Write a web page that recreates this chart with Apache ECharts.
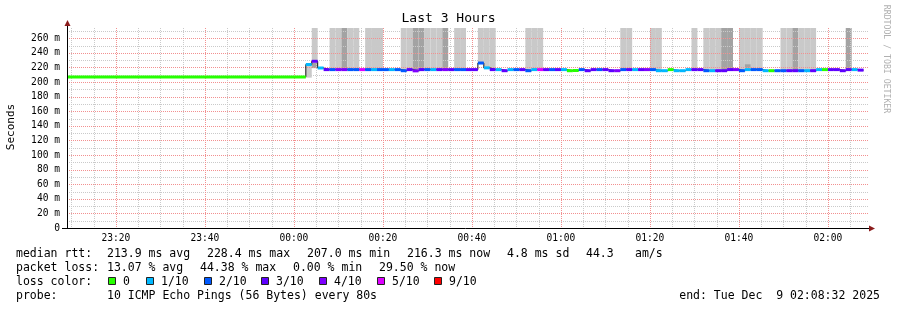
<!DOCTYPE html>
<html><head><meta charset="utf-8">
<script src="https://cdn.jsdelivr.net/npm/echarts@6/dist/echarts.min.js"></script>
<style>html,body{margin:0;padding:0;background:#fff}#c{width:897px;height:310px}</style>
</head><body><div id="c"></div>
<script>
// ---- time axis (minutes relative to 00:00) ----
const graphStartMin = -51.0;      // left edge of plot
const graphEndMin = 129.0;        // right edge of plot
const firstStepMin = 2.6667;      // 00:02:40
const stepMin = 80 / 60;          // 80 s probe step
const initialMedianMs = 207.0;    // held from graph start
const initialLoss = 0;

// ---- median rtt (ms) and loss (tenths) per 80 s step ----
const medianMs = [
  224.0, 228.4, 219.2, 217.0, 217.0, 217.0, 217.0, 217.0, 217.0, 217.0,
  217.0, 217.0, 217.0, 217.0, 217.0, 217.0, 215.5, 217.0, 215.3, 217.0,
  217.0, 217.0, 217.0, 217.0, 217.0, 217.0, 217.0, 217.0, 217.0, 226.0,
  219.4, 217.0, 217.0, 215.5, 217.0, 217.0, 217.0, 215.5, 217.0, 217.0,
  217.0, 217.0, 217.0, 217.0, 215.5, 215.8, 217.0, 215.5, 217.0, 217.0,
  217.0, 215.5, 215.5, 217.0, 217.0, 217.0, 217.0, 217.0, 217.0, 215.5,
  215.5, 217.0, 215.5, 215.5, 217.0, 217.0, 217.0, 215.5, 215.5, 215.5,
  215.5, 217.0, 217.0, 215.5, 217.0, 217.0, 217.0, 215.5, 215.5, 215.5,
  215.5, 215.5, 215.5, 215.5, 215.5, 215.5, 217.0, 217.0, 217.0, 217.0,
  215.5, 217.0, 217.0, 216.3
];
const lossTenths = [
  1, 3, 1, 3, 2, 4, 4, 2, 2, 5,
  2, 1, 2, 2, 1, 2, 2, 3, 4, 3,
  2, 1, 3, 4, 3, 2, 2, 3, 3, 2,
  1, 3, 1, 3, 1, 2, 3, 2, 1, 5,
  3, 2, 3, 1, 0, 0, 2, 3, 3, 2,
  3, 3, 4, 2, 3, 1, 3, 4, 2, 1,
  1, 0, 1, 1, 1, 3, 3, 2, 1, 3,
  3, 3, 4, 2, 1, 2, 2, 1, 0, 2,
  2, 3, 3, 2, 1, 3, 1, 0, 3, 3,
  3, 3, 1, 3
];

// ---- smoke (ping spread) per step: step index, low ms, high ms, density ----
const smokeStep  = [0, 1, 1, 4, 5, 6, 7, 8, 10, 11, 12, 16, 17, 18, 19, 20, 21, 22, 23, 25, 26, 29, 30, 31, 37, 38, 39, 53, 54, 58, 59, 65, 67, 68, 69, 70, 71, 73, 74, 74, 75, 76, 80, 81, 82, 83, 84, 85, 91];
const smokeLowMs = [206, 228, 219, 217, 217, 217, 217, 217, 217, 217, 217, 215.5, 217, 215.3, 217, 217, 217, 217, 217, 217, 217, 226, 219.4, 217, 215.5, 217, 217, 217, 217, 217, 215.5, 217, 215.5, 215.5, 215.5, 215.5, 217, 215.5, 224.5, 219, 217, 217, 215.5, 215.5, 215.5, 215.5, 215.5, 215.5, 217];
const smokeHighMs = [224, 300, 226.5, 300, 300, 300, 300, 300, 300, 300, 300, 300, 300, 300, 300, 300, 300, 300, 300, 300, 300, 300, 300, 300, 300, 300, 300, 300, 300, 300, 300, 300, 300, 300, 300, 300, 300, 300, 300, 224.5, 300, 300, 300, 300, 300, 300, 300, 300, 300];
const smokeShade = [1, 1, 2, 1, 1, 2, 1, 1, 1, 1, 1, 1, 1, 2, 2, 1, 1, 1, 2, 1, 1, 1, 1, 1, 1, 1, 1, 1, 1, 1, 1, 1, 1, 1, 1, 2, 2, 1, 1, 2, 1, 1, 1, 1, 2, 1, 1, 1, 2];

// ---- loss colour legend ----
const lossLevels = [0, 1, 2, 3, 4, 5, 9];
const lossLabels = ['0', '1/10', '2/10', '3/10', '4/10', '5/10', '9/10'];
const lossColors = ['#26ff00', '#00b8ff', '#0059ff', '#5e00ff', '#7e00ff', '#dd00ff', '#ff0000'];

// ---- ticks ----
const xTickValues = [-40, -20, 0, 20, 40, 60, 80, 100, 120];
const xTickLabels = ['23:20', '23:40', '00:00', '00:20', '00:40', '01:00', '01:20', '01:40', '02:00'];
const xMinorValues = [-50, -45, -35, -30, -25, -15, -10, -5, 5, 10, 15, 25, 30, 35, 45, 50, 55, 65, 70, 75, 85, 90, 95, 105, 110, 115, 125];
const yTickValues = [0, 20, 40, 60, 80, 100, 120, 140, 160, 180, 200, 220, 240, 260];
const yTickLabels = ['0', '20 m', '40 m', '60 m', '80 m', '100 m', '120 m', '140 m', '160 m', '180 m', '200 m', '220 m', '240 m', '260 m'];
const yMinorValues = [10, 30, 50, 70, 90, 110, 130, 150, 170, 190, 210, 230, 250, 270];
const yMaxMs = 274;

// ---- text stats ----
const titleText = 'Last 3 Hours';
const rttStats = ['213.9 ms avg', '228.4 ms max', '207.0 ms min', '216.3 ms now', '4.8 ms sd', '44.3', 'am/s'];
const lossStats = ['13.07 % avg', '44.38 % max', '0.00 % min', '29.50 % now'];
const probeText = '10 ICMP Echo Pings (56 Bytes) every 80s';
const endText = 'end: Tue Dec  9 02:08:32 2025';

// ================= build =================
const MONO = '"DejaVu Sans Mono", monospace';
const MAJOR = '#f29090', MINOR = '#cacaca';
function colorFor(loss) {
  let idx = 0;
  for (let k = 0; k < lossLevels.length; k++) if (loss >= lossLevels[k]) idx = k;
  return lossColors[idx];
}
const stepStart = medianMs.map((_, i) => firstStepMin + i * stepMin);
const segData = [[graphStartMin, firstStepMin, initialMedianMs, initialLoss]]
  .concat(medianMs.map((v, i) => [stepStart[i], stepStart[i] + stepMin, v, lossTenths[i]]));
const lineData = [[graphStartMin, initialMedianMs]]
  .concat(medianMs.map((v, i) => [stepStart[i], v]));
lineData.push([stepStart[stepStart.length - 1] + stepMin, medianMs[medianMs.length - 1]]);
const smokeData = smokeStep.map((s, k) => [stepStart[s], stepStart[s] + stepMin, smokeLowMs[k], smokeHighMs[k], smokeShade[k]]);

const G = { left: 67, top: 28, right: 29, bottom: 82 };
const W = 897, H = 310;
const x0 = G.left, x1 = W - G.right, y0 = H - G.bottom, yTop = G.top;

function rectRender(params, api, yLowIdx, yHighIdx, styleFn, fixedH) {
  const a = api.coord([api.value(0), api.value(yHighIdx)]);
  const b = api.coord([api.value(1), api.value(yLowIdx)]);
  let r;
  if (fixedH) r = { x: a[0], y: a[1] - fixedH / 2, width: b[0] - a[0], height: fixedH };
  else r = { x: a[0], y: a[1], width: b[0] - a[0], height: b[1] - a[1] };
  const cs = params.coordSys;
  const shape = echarts.graphic.clipRectByRect(r, { x: cs.x, y: cs.y, width: cs.width, height: cs.height });
  return shape && { type: 'rect', shape: shape, style: styleFn(api) };
}
function vGrid(color) {
  return function (params, api) {
    const cs = params.coordSys;
    const px = Math.round(api.coord([api.value(0), 0])[0]) + 0.5;
    return { type: 'line', shape: { x1: px, y1: cs.y, x2: px, y2: cs.y + cs.height },
      style: { stroke: color, lineWidth: 1, lineDash: [1, 1] } };
  };
}
function hGrid(color) {
  return function (params, api) {
    const cs = params.coordSys;
    const py = Math.round(api.coord([graphStartMin, api.value(1)])[1]) + 0.5;
    return { type: 'line', shape: { x1: cs.x, y1: py, x2: cs.x + cs.width, y2: py },
      style: { stroke: color, lineWidth: 1, lineDash: [1, 1] } };
  };
}

const graphics = [];
// axis lines and arrows
graphics.push({ type: 'line', z: 50, shape: { x1: x0 - 5, y1: y0 + 0.5, x2: x1 + 1, y2: y0 + 0.5 }, style: { stroke: '#000', lineWidth: 1 } });
graphics.push({ type: 'line', z: 50, shape: { x1: x0 + 0.5, y1: y0 + 1, x2: x0 + 0.5, y2: yTop - 2 }, style: { stroke: '#000', lineWidth: 1 } });
graphics.push({ type: 'polygon', z: 51, shape: { points: [[x1 + 1, y0 - 2.5], [x1 + 7, y0 + 0.5], [x1 + 1, y0 + 3.5]] }, style: { fill: '#8b1c1c' } });
graphics.push({ type: 'polygon', z: 51, shape: { points: [[x0 - 2.5, yTop - 2], [x0 + 0.5, yTop - 8], [x0 + 3.5, yTop - 2]] }, style: { fill: '#8b1c1c' } });
// title and side texts
graphics.push({ type: 'text', z: 50, x: 448.5, y: 19, style: { text: titleText, font: '13px ' + MONO, fill: '#000', align: 'center', verticalAlign: 'middle' } });
graphics.push({ type: 'text', z: 50, x: 11, y: 127, rotation: Math.PI / 2, style: { text: 'Seconds', font: '11px ' + MONO, fill: '#000', align: 'center', verticalAlign: 'middle' } });
graphics.push({ type: 'text', z: 50, x: 886, y: 59, rotation: -Math.PI / 2, style: { text: 'RRDTOOL / TOBI OETIKER', font: '8.2px ' + MONO, fill: '#b0b0b0', align: 'center', verticalAlign: 'middle' } });
// legend
const LF = '11.5px ' + MONO;
function txt(x, y, s, align) {
  graphics.push({ type: 'text', z: 50, x: x, y: y, style: { text: s, font: LF, fill: '#000', align: align || 'left', verticalAlign: 'middle' } });
}
const rows = [254, 268, 282, 296];
txt(16, rows[0], 'median rtt:');
[107, 207, 307, 407, 507, 586, 635].forEach((x, k) => txt(x, rows[0], rttStats[k]));
txt(16, rows[1], 'packet loss:');
[107, 200, 293, 379].forEach((x, k) => txt(x, rows[1], lossStats[k]));
txt(16, rows[2], 'loss color:');
[108, 146, 204, 261, 319, 377, 434].forEach((x, k) => {
  graphics.push({ type: 'rect', z: 50, shape: { x: x + 0.5, y: rows[2] - 4.5, width: 7, height: 7 }, style: { fill: lossColors[k], stroke: '#222', lineWidth: 1 } });
  txt(x + 15, rows[2], lossLabels[k]);
});
txt(16, rows[3], 'probe:');
txt(107, rows[3], probeText);
txt(880, rows[3], endText, 'right');

const chart = echarts.init(document.getElementById('c'), null, { renderer: 'canvas' });
chart.setOption({
  animation: false,
  backgroundColor: '#fff',
  grid: G,
  xAxis: {
    type: 'value', min: graphStartMin, max: graphEndMin,
    axisLine: { show: false },
    axisTick: { show: false, customValues: xTickValues },
    axisLabel: {
      customValues: xTickValues, margin: 5, color: '#000', fontFamily: MONO, fontSize: 9.6,
      formatter: v => xTickLabels[xTickValues.indexOf(Math.round(v))] || ''
    },
    splitLine: { show: false }
  },
  yAxis: {
    type: 'value', min: 0, max: yMaxMs,
    axisLine: { show: false },
    axisTick: { show: false, customValues: yTickValues },
    axisLabel: {
      customValues: yTickValues, margin: 7, color: '#000', fontFamily: MONO, fontSize: 9.6,
      formatter: v => yTickLabels[yTickValues.indexOf(Math.round(v))] || ''
    },
    splitLine: { show: false }
  },
  series: [
    {
      type: 'custom', name: 'smoke', z: 0,
      data: smokeData, encode: { x: [0, 1], y: [2, 3] }, silent: true,
      renderItem: (p, api) => rectRender(p, api, 2, 3, a => ({ fill: a.value(4) === 2 ? '#a3a3a3' : '#c9c9c9' }))
    },
    { type: 'custom', name: 'vgridMinor', z: 1, data: xMinorValues.map(v => [v, 0]), encode: { x: 0, y: 1 }, silent: true, renderItem: vGrid(MINOR) },
    { type: 'custom', name: 'hgridMinor', z: 1, data: yMinorValues.map(v => [graphStartMin, v]), encode: { x: 0, y: 1 }, silent: true, renderItem: hGrid(MINOR) },
    { type: 'custom', name: 'vgridMajor', z: 1, data: xTickValues.map(v => [v, 0]), encode: { x: 0, y: 1 }, silent: true, renderItem: vGrid(MAJOR) },
    { type: 'custom', name: 'hgridMajor', z: 1, data: yTickValues.filter(v => v > 0).map(v => [graphStartMin, v]), encode: { x: 0, y: 1 }, silent: true, renderItem: hGrid(MAJOR) },
    {
      type: 'line', name: 'median', z: 3, step: 'end',
      data: lineData, showSymbol: false, symbol: 'none',
      lineStyle: { color: '#111', width: 1 }, silent: true
    },
    {
      type: 'custom', name: 'loss', z: 4,
      data: segData, encode: { x: [0, 1], y: 2 }, silent: true,
      renderItem: (p, api) => rectRender(p, api, 2, 2, a => ({ fill: colorFor(a.value(3)) }), 3)
    }
  ],
  graphic: graphics
});
</script></body></html>
